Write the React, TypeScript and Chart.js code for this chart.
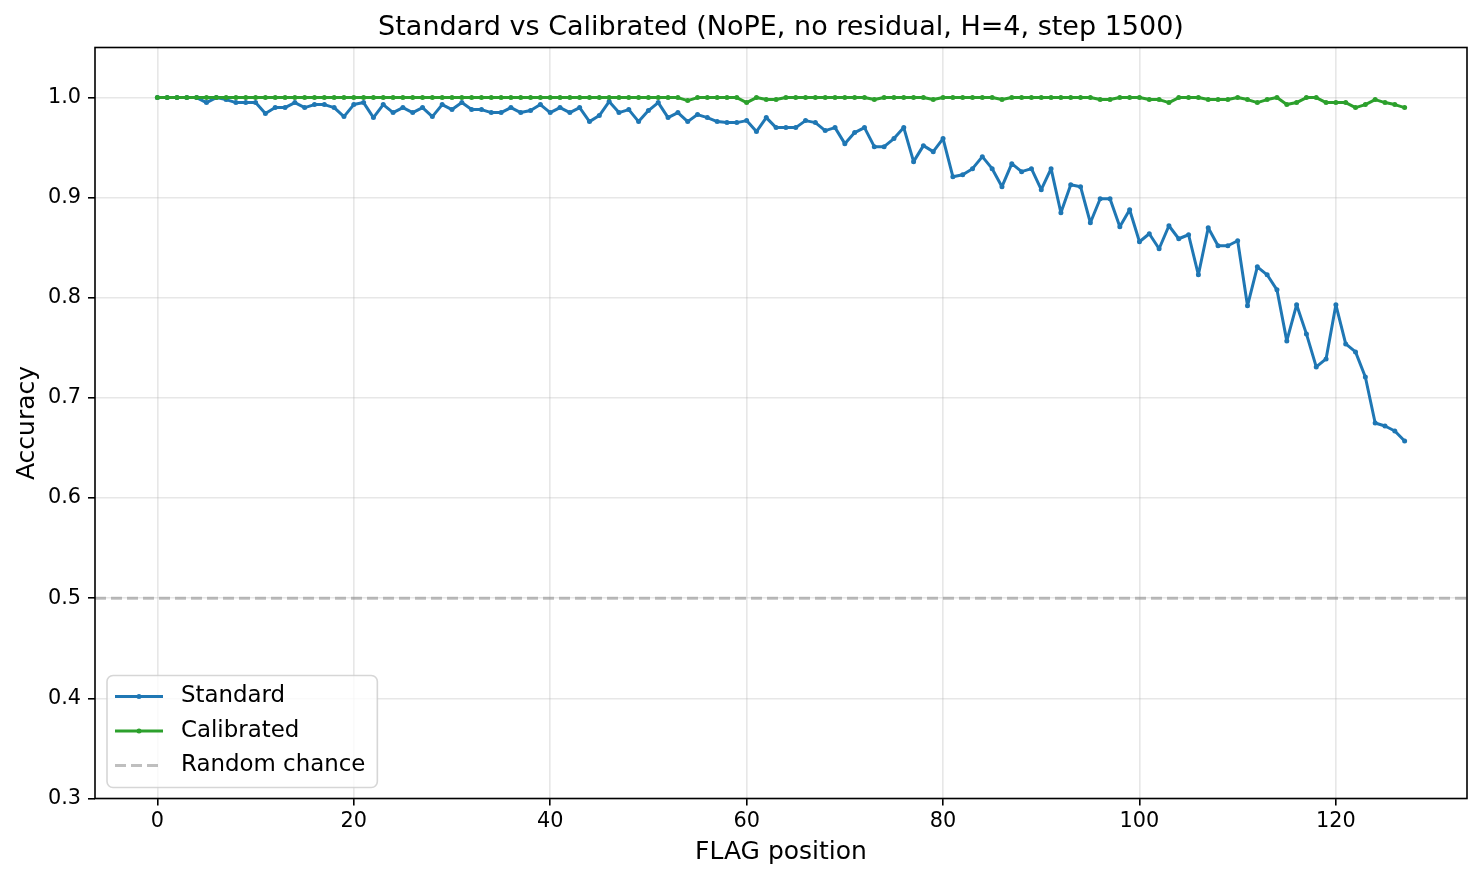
import { useEffect, useRef } from 'react'
import { Chart, registerables } from 'chart.js'

Chart.register(...registerables)

// FLAG position on the x axis (0..127)
const positions: number[] = Array.from({ length: 128 }, (_, i) => i)

const standardAcc: number[] = [
  1.0, 1.0, 1.0, 1.0, 1.0, 0.995, 1.0, 0.998, 0.995, 0.995,
  0.995, 0.984, 0.99, 0.99, 0.995, 0.99, 0.993, 0.993, 0.99, 0.981,
  0.993, 0.995, 0.98, 0.993, 0.985, 0.99, 0.985, 0.99, 0.981, 0.993,
  0.988, 0.995, 0.988, 0.988, 0.985, 0.985, 0.99, 0.985, 0.987, 0.993,
  0.985, 0.99, 0.985, 0.99, 0.976, 0.982, 0.996, 0.985, 0.988, 0.976,
  0.987, 0.995, 0.98, 0.985, 0.976, 0.983, 0.98, 0.976, 0.975, 0.975,
  0.977, 0.966, 0.98, 0.97, 0.97, 0.97, 0.977, 0.975, 0.967, 0.97,
  0.954, 0.965, 0.97, 0.951, 0.951, 0.959, 0.97, 0.936, 0.952, 0.946,
  0.959, 0.921, 0.923, 0.929, 0.941, 0.929, 0.911, 0.934, 0.926, 0.929,
  0.908, 0.929, 0.885, 0.913, 0.911, 0.875, 0.899, 0.899, 0.871, 0.888,
  0.856, 0.864, 0.849, 0.872, 0.859, 0.863, 0.823, 0.87, 0.852, 0.852,
  0.857, 0.792, 0.831, 0.823, 0.808, 0.757, 0.793, 0.764, 0.731, 0.739,
  0.793, 0.754, 0.746, 0.721, 0.675, 0.672, 0.667, 0.657,
]

const calibratedAcc: number[] = [
  1.0, 1.0, 1.0, 1.0, 1.0, 1.0, 1.0, 1.0, 1.0, 1.0,
  1.0, 1.0, 1.0, 1.0, 1.0, 1.0, 1.0, 1.0, 1.0, 1.0,
  1.0, 1.0, 1.0, 1.0, 1.0, 1.0, 1.0, 1.0, 1.0, 1.0,
  1.0, 1.0, 1.0, 1.0, 1.0, 1.0, 1.0, 1.0, 1.0, 1.0,
  1.0, 1.0, 1.0, 1.0, 1.0, 1.0, 1.0, 1.0, 1.0, 1.0,
  1.0, 1.0, 1.0, 1.0, 0.997, 1.0, 1.0, 1.0, 1.0, 1.0,
  0.995, 1.0, 0.998, 0.998, 1.0, 1.0, 1.0, 1.0, 1.0, 1.0,
  1.0, 1.0, 1.0, 0.998, 1.0, 1.0, 1.0, 1.0, 1.0, 0.998,
  1.0, 1.0, 1.0, 1.0, 1.0, 1.0, 0.998, 1.0, 1.0, 1.0,
  1.0, 1.0, 1.0, 1.0, 1.0, 1.0, 0.998, 0.998, 1.0, 1.0,
  1.0, 0.998, 0.998, 0.995, 1.0, 1.0, 1.0, 0.998, 0.998, 0.998,
  1.0, 0.998, 0.995, 0.998, 1.0, 0.993, 0.995, 1.0, 1.0, 0.995,
  0.995, 0.995, 0.99, 0.993, 0.998, 0.995, 0.993, 0.99,
]

const randomChance = 0.5
const xTicks: number[] = [0, 20, 40, 60, 80, 100, 120]
const yTicks: number[] = [0.3, 0.4, 0.5, 0.6, 0.7, 0.8, 0.9, 1.0]
const X_MIN = -6.35
const X_MAX = 133.35
const Y_MIN = 0.3
const Y_MAX = 1.05

const TITLE = 'Standard vs Calibrated (NoPE, no residual, H=4, step 1500)'
const FONT = '"DejaVu Sans", sans-serif'

// title, box spines and a matplotlib-like legend inside the axes
const decorPlugin = {
  id: 'decor',
  afterDraw(chart: any) {
    const { ctx, chartArea: a } = chart
    ctx.save()
    ctx.fillStyle = '#000'
    ctx.font = `27px ${FONT}`
    ctx.textAlign = 'center'
    ctx.textBaseline = 'alphabetic'
    ctx.fillText(TITLE, (a.left + a.right) / 2, a.top - 13)

    ctx.strokeStyle = '#000'
    ctx.lineWidth = 1.6
    ctx.strokeRect(a.left, a.top, a.right - a.left, a.bottom - a.top)

    // legend
    const items = chart.data.datasets.map((d: any) => ({
      label: d.label, color: d.borderColor, dash: d.borderDash || [], marker: d.pointRadius > 0,
    }))
    ctx.font = `22.9px ${FONT}`
    const textW = Math.max(...items.map((it: any) => ctx.measureText(it.label).width))
    const bx = a.left + 12
    const bh = 112
    const by = a.bottom - 11 - bh
    const bw = 74 + textW + 12
    const r = 6
    ctx.beginPath()
    ctx.roundRect(bx, by, bw, bh, r)
    ctx.fillStyle = 'rgba(255,255,255,0.8)'
    ctx.fill()
    ctx.strokeStyle = 'rgba(204,204,204,0.8)'
    ctx.lineWidth = 1.6
    ctx.stroke()
    items.forEach((it: any, i: number) => {
      const cy = by + 21 + i * 34.5
      ctx.beginPath()
      ctx.setLineDash(it.dash)
      ctx.strokeStyle = it.color
      ctx.lineWidth = 3
      ctx.moveTo(bx + 8, cy)
      ctx.lineTo(bx + 56, cy)
      ctx.stroke()
      ctx.setLineDash([])
      if (it.marker) {
        ctx.beginPath()
        ctx.fillStyle = it.color
        ctx.arc(bx + 32, cy, 2.5, 0, Math.PI * 2)
        ctx.fill()
      }
      ctx.fillStyle = '#000'
      ctx.textAlign = 'left'
      ctx.textBaseline = 'middle'
      ctx.fillText(it.label, bx + 74, cy)
    })
    ctx.restore()
  },
}

export default function App() {
  const ref = useRef<HTMLCanvasElement>(null)

  useEffect(() => {
    if (!ref.current) return
    const ctx = ref.current.getContext('2d')
    if (!ctx) return
    Chart.defaults.font.family = FONT
    Chart.defaults.color = '#000'

    const gridOpts = {
      color: 'rgba(176,176,176,0.3)',
      lineWidth: 1.6,
      tickColor: '#000',
      tickLength: 7,
      tickWidth: 1.6,
    }

    const chart = new Chart(ctx, {
      type: 'line',
      data: {
        datasets: [
          {
            label: 'Standard',
            data: positions.map((p, i) => ({ x: p, y: standardAcc[i] })),
            borderColor: '#1f77b4',
            backgroundColor: '#1f77b4',
            borderWidth: 3,
            borderJoinStyle: 'round',
            pointRadius: 2.5,
            pointBorderWidth: 0,
            order: 2,
          },
          {
            label: 'Calibrated',
            data: positions.map((p, i) => ({ x: p, y: calibratedAcc[i] })),
            borderColor: '#2ca02c',
            backgroundColor: '#2ca02c',
            borderWidth: 3,
            borderJoinStyle: 'round',
            pointRadius: 2.5,
            pointBorderWidth: 0,
            order: 1,
          },
          {
            label: 'Random chance',
            data: [{ x: X_MIN, y: randomChance }, { x: X_MAX, y: randomChance }],
            borderColor: 'rgba(128,128,128,0.5)',
            borderWidth: 3,
            borderDash: [11, 5],
            pointRadius: 0,
            order: 0,
          },
        ],
      },
      options: {
        responsive: false,
        animation: false,
        events: [],
        layout: { padding: { top: 47.5, right: 15, left: 0, bottom: 0 } },
        plugins: {
          legend: { display: false },
          title: { display: false },
          tooltip: { enabled: false },
        },
        scales: {
          x: {
            type: 'linear',
            min: X_MIN,
            max: X_MAX,
            afterBuildTicks: (s: any) => { s.ticks = xTicks.map(value => ({ value })) },
            afterFit: (s: any) => { s.height = 81.5 },
            ticks: { font: { size: 20.8 }, padding: 4, color: '#000', maxRotation: 0 },
            grid: gridOpts,
            border: { display: false },
            title: { display: true, text: 'FLAG position', font: { size: 25 }, color: '#000', padding: { top: 0, bottom: 13 } },
          },
          y: {
            type: 'linear',
            min: Y_MIN,
            max: Y_MAX,
            afterBuildTicks: (s: any) => { s.ticks = yTicks.map(value => ({ value })) },
            afterFit: (s: any) => { s.width = 95 },
            ticks: { font: { size: 20.8 }, padding: 7, color: '#000', callback: (v: any) => Number(v).toFixed(1) },
            grid: gridOpts,
            border: { display: false },
            title: { display: true, text: 'Accuracy', font: { size: 25 }, color: '#000', padding: { top: 12, bottom: 0 } },
          },
        },
      },
      plugins: [decorPlugin],
    })
    return () => chart.destroy()
  }, [])

  return (
    <div style={{ position: 'absolute', left: 0, top: 0, width: 1482, height: 880, background: '#fff' }}>
      <canvas ref={ref} width={1482} height={880} style={{ width: 1482, height: 880 }} />
    </div>
  )
}
